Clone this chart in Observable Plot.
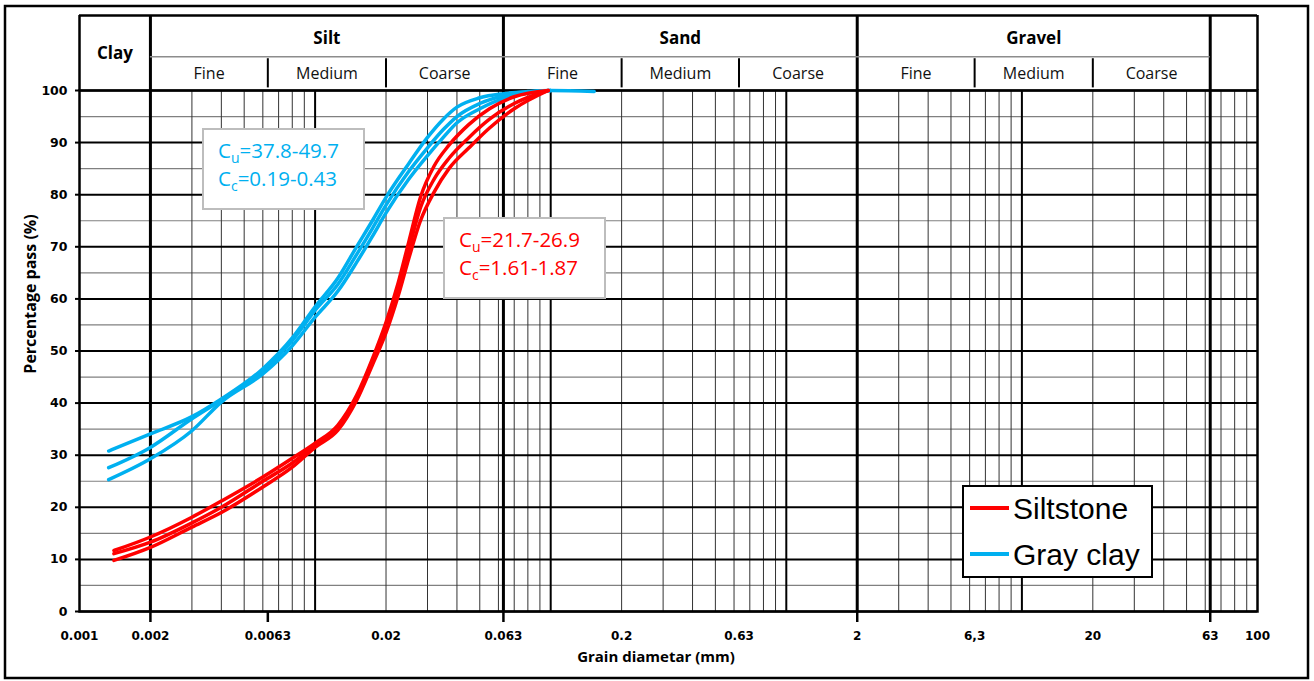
<!DOCTYPE html>
<html><head><meta charset="utf-8">
<script src="https://cdn.jsdelivr.net/npm/d3@7"></script>
<script src="https://cdn.jsdelivr.net/npm/@observablehq/plot@0.6"></script>
<style>
html,body{margin:0;padding:0;background:#fff;}
#chart{position:relative;width:1314px;height:681px;}
</style></head><body><div id="chart"></div>
<script>
// ---------- data ----------
const xTicks = [0.001, 0.002, 0.0063, 0.02, 0.063, 0.2, 0.63, 2, 6.3, 20, 63, 100];
const xTickLabels = ["0.001", "0.002", "0.0063", "0.02", "0.063", "0.2", "0.63", "2", "6,3", "20", "63", "100"];
const xTickMarks = [0.002, 0.0063, 0.063, 2, 63];
const yTicks = [0, 10, 20, 30, 40, 50, 60, 70, 80, 90, 100];
const yMinor = [5, 15, 25, 35, 45, 55, 65, 75, 85, 95];

const fractionNames = ["Clay", "Silt", "Sand", "Gravel"];
const fractionLo = [0.001, 0.002, 0.063, 2];
const fractionHi = [0.002, 0.063, 2, 63];
const subNames = ["Fine", "Medium", "Coarse", "Fine", "Medium", "Coarse", "Fine", "Medium", "Coarse"];
const subBounds = [0.002, 0.0063, 0.02, 0.063, 0.2, 0.63, 2, 6.3, 20, 63];
const fractionBoundaries = [0.002, 0.063, 2, 63];
const decadeLines = [0.01, 0.1, 1, 10];

const siltstoneDiam = [0.0014, 0.002, 0.003, 0.004, 0.006, 0.008, 0.01, 0.0125, 0.015, 0.0175, 0.02, 0.0225, 0.025, 0.028, 0.032, 0.037, 0.045, 0.055, 0.07, 0.0975];
const siltstone1 = [11.7, 14.3, 18.1, 21.2, 25.8, 29.4, 32.3, 35.8, 41.5, 48.5, 55.5, 63.0, 71.0, 79.5, 85.5, 89.5, 93.5, 96.5, 98.8, 100];
const siltstone2 = [11.1, 13.3, 17.0, 20.0, 25.0, 28.5, 31.9, 35.2, 41.0, 48.0, 54.5, 61.8, 69.5, 77.5, 83.0, 87.0, 91.0, 94.5, 97.5, 100];
const siltstone3 = [9.8, 12.3, 16.2, 19.0, 23.9, 27.7, 31.5, 34.8, 40.5, 47.3, 53.5, 60.5, 67.8, 75.0, 80.5, 85.0, 89.0, 92.8, 96.5, 100];

const grayClayDiam = [0.00133, 0.002, 0.003, 0.004, 0.006, 0.008, 0.01, 0.0125, 0.015, 0.0175, 0.02, 0.025, 0.03, 0.035, 0.04, 0.05, 0.063, 0.08, 0.1, 0.153];
const grayClay1 = [30.8, 34.1, 37.4, 40.8, 46.6, 52.5, 58.5, 64.0, 70.0, 75.0, 79.5, 86.0, 91.0, 94.5, 96.8, 98.6, 99.4, 99.8, 100, 99.8];
const grayClay2 = [27.6, 31.5, 37.0, 40.6, 46.2, 52.0, 57.8, 62.8, 68.5, 73.5, 78.0, 84.5, 89.0, 92.5, 95.0, 97.5, 99.0, 99.7, 100];
const grayClay3 = [25.3, 29.3, 34.7, 40.2, 45.6, 51.0, 56.5, 61.5, 67.0, 72.0, 76.5, 83.0, 87.5, 91.0, 93.8, 96.5, 98.5, 99.5, 100];

const seriesNames = ["Siltstone", "Gray clay"];
const seriesColors = ["#FF0000", "#00B0F0"];
const cuTexts = [["u", "=21.7-26.9"], ["u", "=37.8-49.7"]];
const ccTexts = [["c", "=1.61-1.87"], ["c", "=0.19-0.43"]];

// ---------- build tables ----------
function rows(name, sample, diam, vals) {
  return vals.map((p, i) => ({d: diam[i], p, sample: name + " " + sample}));
}
const siltRows = [
  ...rows("Siltstone", 1, siltstoneDiam, siltstone1),
  ...rows("Siltstone", 2, siltstoneDiam, siltstone2),
  ...rows("Siltstone", 3, siltstoneDiam, siltstone3)
];
const clayRows = [
  ...rows("Gray clay", 1, grayClayDiam, grayClay1),
  ...rows("Gray clay", 2, grayClayDiam, grayClay2),
  ...rows("Gray clay", 3, grayClayDiam, grayClay3)
];

// minor log grid
const minorX = [];
for (let e = -3; e <= 1; e++) for (let k = 2; k <= 9; k++) minorX.push(k * Math.pow(10, e));

const headerTop = 114.4, headerMid = 106.5;
const subCenters = subNames.map((_, i) => Math.sqrt(subBounds[i] * subBounds[i + 1]));
const fracCenters = fractionNames.map((_, i) => Math.sqrt(fractionLo[i] * fractionHi[i]));
const innerSub = [0.0063, 0.02, 0.2, 0.63, 6.3, 20];

const tickFont = "DejaVu Sans";
const hdrFont = "Open Sans";

const chart = Plot.plot({
  width: 1314,
  height: 681,
  marginLeft: 79,
  marginRight: 57,
  marginTop: 90,
  marginBottom: 70,
  style: {fontFamily: tickFont, background: "white", overflow: "visible"},
  x: {type: "log", domain: [0.001, 100], axis: null},
  y: {domain: [0, 100], axis: null},
  marks: [
    Plot.ruleY(yMinor, {stroke: "#808080", strokeWidth: 1.2}),
    Plot.ruleX(minorX, {y1: 0, y2: 100, stroke: "#333", strokeWidth: 1}),
    Plot.ruleY(yTicks, {stroke: "#000", strokeWidth: 2}),
    Plot.ruleX(decadeLines, {y1: 0, y2: 100, stroke: "#000", strokeWidth: 2}),
    Plot.ruleX(fractionBoundaries, {y1: 0, y2: headerTop, stroke: "#000", strokeWidth: 3}),
    // header
    Plot.ruleY([headerTop], {x1: 0.001, x2: 100, stroke: "#000", strokeWidth: 2.5}),
    Plot.ruleX([0.001, 100], {y1: 100, y2: headerTop, stroke: "#000", strokeWidth: 2.5}),
    Plot.ruleY([headerMid], {x1: 0.002, x2: 63, stroke: "#8c8c8c", strokeWidth: 1.5}),
    Plot.ruleX(innerSub, {y1: 100.5, y2: headerMid - 0.4, stroke: "#000", strokeWidth: 2}),
    Plot.text(fractionNames, {
      x: (d, i) => fracCenters[i],
      y: (d, i) => i === 0 ? 107.1 : 110.0,
      text: d => d, fontFamily: hdrFont, fontWeight: "bold", fontSize: 17, fill: "#000"
    }),
    Plot.text(subNames, {
      x: (d, i) => subCenters[i], y: (100 + headerMid) / 2,
      text: d => d, fontFamily: hdrFont, fontSize: 16, fill: "#111"
    }),
    Plot.frame({stroke: "#000", strokeWidth: 2.5}),
    // axes
    Plot.axisY(yTicks, {anchor: "left", tickSize: 4, tickFormat: () => "", strokeWidth: 2, label: null}),
    Plot.axisX(xTickMarks, {anchor: "bottom", tickSize: 11, tickFormat: () => "", strokeWidth: 2.5, label: null}),
    Plot.text(yTicks, {frameAnchor: "left", y: d => d, text: d => String(d), textAnchor: "end", dx: -12,
      fontFamily: tickFont, fontWeight: "bold", fontSize: 12.5, fill: "#000"}),
    Plot.text(xTicks, {x: d => d, frameAnchor: "bottom", dy: 28, text: (d, i) => xTickLabels[i],
      fontFamily: tickFont, fontWeight: "bold", fontSize: 12, fill: "#000"}),
    // data
    Plot.line(clayRows, {x: "d", y: "p", z: "sample", stroke: seriesColors[1], strokeWidth: 3.5, curve: "monotone-x"}),
    Plot.line(siltRows, {x: "d", y: "p", z: "sample", stroke: seriesColors[0], strokeWidth: 3.5, curve: "monotone-x"})
  ]
});

document.getElementById("chart").appendChild(chart);

// ---------- overlays: axis titles, annotation boxes, legend, outer frame ----------
const svg = d3.select(chart);

svg.append("text").attr("x", 656).attr("y", 662).attr("text-anchor", "middle")
  .attr("font-family", hdrFont).attr("font-weight", "bold").attr("font-size", 15).attr("fill", "#000")
  .text("Grain diametar (mm)");
svg.append("text").attr("transform", "translate(36,294) rotate(-90)").attr("text-anchor", "middle")
  .attr("font-family", hdrFont).attr("font-weight", "bold").attr("font-size", 16).attr("fill", "#000")
  .text("Percentage pass (%)");

function annot(left, top, color, cu, cc) {
  const g = svg.append("g");
  g.append("rect").attr("x", left).attr("y", top).attr("width", 161).attr("height", 80)
    .attr("fill", "#fff").attr("stroke", "#bdbdbd").attr("stroke-width", 2);
  [[cu, 29], [cc, 57]].forEach(([parts, off]) => {
    const t = g.append("text").attr("x", left + 15).attr("y", top + off).attr("text-anchor", "start")
      .attr("font-family", hdrFont).attr("font-size", 20.5).attr("fill", color);
    t.append("tspan").text("C");
    t.append("tspan").attr("font-size", 14).attr("dy", 5).text(parts[0]);
    t.append("tspan").attr("dy", -5).text(parts[1]);
  });
}
annot(203, 129, seriesColors[1], cuTexts[1], ccTexts[1]);
annot(444, 218, seriesColors[0], cuTexts[0], ccTexts[0]);

const lg = svg.append("g");
lg.append("rect").attr("x", 963).attr("y", 486).attr("width", 189).attr("height", 91)
  .attr("fill", "#fff").attr("stroke", "#000").attr("stroke-width", 2);
seriesNames.forEach((name, i) => {
  const cy = 508 + i * 46;
  lg.append("line").attr("x1", 970).attr("x2", 1009).attr("y1", cy).attr("y2", cy)
    .attr("stroke", seriesColors[i]).attr("stroke-width", 4);
  lg.append("text").attr("x", 1013).attr("y", cy + 11).attr("text-anchor", "start")
    .attr("font-family", "Liberation Sans").attr("font-size", 30).attr("fill", "#000").text(name);
});

svg.append("rect").attr("x", 5).attr("y", 6).attr("width", 1303).attr("height", 672)
  .attr("fill", "none").attr("stroke", "#000").attr("stroke-width", 2.5);
</script>
</body></html>
